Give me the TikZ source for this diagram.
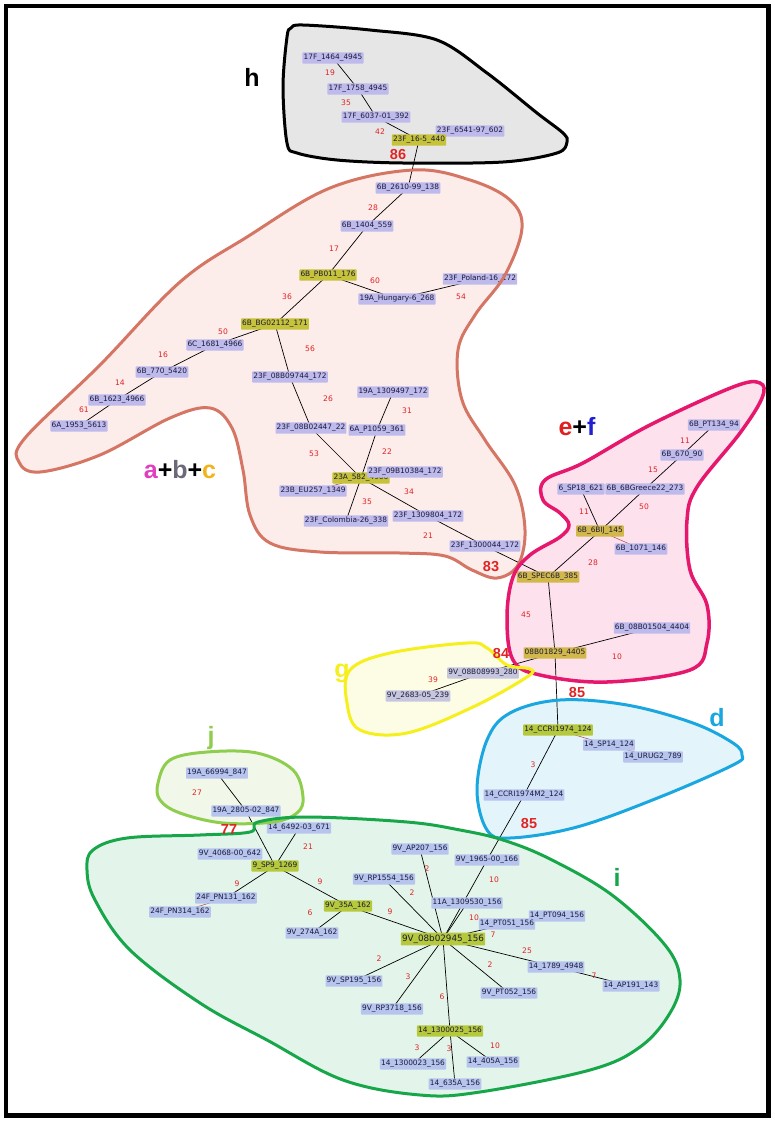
\documentclass[tikz,border=0pt]{standalone}
\usepackage{fontspec}
\setmainfont{DejaVu Sans}
\newfontfamily\labfont{Liberation Sans}
\definecolor{nbA}{HTML}{BEBAEC}
\definecolor{nbB}{HTML}{B6C4EE}
\definecolor{nbG}{HTML}{C6C6DE}
\definecolor{nyO}{HTML}{C6C23A}
\definecolor{nyG}{HTML}{D2B84A}
\definecolor{nyL}{HTML}{B6C93C}
\definecolor{ntext}{HTML}{1A1A3A}
\definecolor{labred}{HTML}{E02424}
\definecolor{thinred}{HTML}{B04040}
\definecolor{hfill}{HTML}{E6E6E6}
\definecolor{pfill}{HTML}{FCECEA}
\definecolor{pdraw}{HTML}{D57563}
\definecolor{efill}{HTML}{FDE2EE}
\definecolor{edraw}{HTML}{E5186E}
\definecolor{gfill}{HTML}{FDFDE6}
\definecolor{gdraw}{HTML}{F5EF1D}
\definecolor{dfill}{HTML}{E3F4FB}
\definecolor{ddraw}{HTML}{1AA7E0}
\definecolor{jfill}{HTML}{F1F8EA}
\definecolor{jdraw}{HTML}{8FCD4F}
\definecolor{ifill}{HTML}{E3F5EA}
\definecolor{idraw}{HTML}{17A74A}
\definecolor{ca}{HTML}{E23FBF}
\definecolor{cb}{HTML}{6A6A7A}
\definecolor{cc}{HTML}{F2B41C}
\definecolor{ce}{HTML}{E02020}
\definecolor{cf}{HTML}{2020D0}
\pgfdeclarelayer{bg}
\pgfdeclarelayer{edges}
\pgfdeclarelayer{fg}
\pgfdeclarelayer{top}
\pgfsetlayers{bg,edges,main,fg,top}
\begin{document}
\begin{tikzpicture}[x=1pt,y=-1pt,
  nb/.style={fill=nbA, text=ntext, inner xsep=1.2pt, inner ysep=2pt, rounded corners=0.8pt, font=\fontsize{7.4}{8}\selectfont},
  nl/.style={nb, fill=nbB},
  ng/.style={nb, fill=nbG},
  nyo/.style={nb, fill=nyO},
  nyg/.style={nb, fill=nyG},
  nyl/.style={nb, fill=nyL},
  hub/.style={nb, fill=nyL, font=\fontsize{8.8}{10}\selectfont},
  el/.style={text=labred, inner sep=0pt, font=\fontsize{7.6}{8}\selectfont},
  eb/.style={text=labred, inner sep=0pt, font=\labfont\bfseries\fontsize{14.5}{16}\selectfont},
  rl/.style={inner sep=0pt, font=\labfont\bfseries\fontsize{25}{28}\selectfont},
  ed/.style={black, line width=0.7pt},
  edr/.style={thinred, line width=0.5pt},
  region/.style={line width=3pt},
  hshape/.style={insert path={plot[smooth cycle, tension=0.55] coordinates {(287,37) (291,28) (303,25) (370,30) (437,40) (487,73) (537,113) (563,133) (567,142) (557,153) (503,162) (403,163) (337,160) (297,153) (287,143) (283,87)}}},
  pshape/.style={insert path={plot[smooth cycle, tension=0.6] coordinates {(413,170) (470,180) (510,200) (522,228) (505,275) (475,315) (458,350) (462,400) (485,440) (515,485) (525,530) (518,565) (497,578) (472,570) (445,556) (400,553) (320,552) (270,543) (250,515) (243,470) (232,428) (210,408) (170,418) (100,455) (40,472) (19,462) (25,438) (100,365) (180,282) (247,237) (330,188)}}},
  eshape/.style={insert path={plot[smooth cycle, tension=0.6] coordinates {(760,383) (762,398) (740,433) (697,487) (687,520) (690,570) (707,605) (707,643) (690,670) (607,682) (540,675) (513,660) (507,617) (513,577) (530,555) (560,537) (569,525) (560,513) (543,500) (545,480) (583,463) (650,425) (733,387)}}},
  gshape/.style={insert path={plot[smooth cycle, tension=0.6] coordinates {(350,670) (390,653) (467,643) (487,648) (507,665) (530,669) (527,677) (473,707) (407,733) (360,730) (347,703)}}},
  dshape/.style={insert path={plot[smooth cycle, tension=0.6] coordinates {(560,700) (627,705) (693,723) (733,743) (742,755) (733,765) (660,797) (577,827) (510,838) (487,830) (477,790) (487,740) (510,713)}}},
  jshape/.style={insert path={plot[smooth cycle, tension=0.6] coordinates {(158,783) (170,760) (207,752) (257,753) (293,770) (303,797) (297,813) (273,822) (223,823) (180,813) (160,800)}}},
  ishape/.style={insert path={plot[smooth cycle, tension=0.6] coordinates {(93,850) (127,838) (200,835) (250,832) (258,822) (307,817) (407,822) (460,830) (503,840) (550,859) (612,895) (665,945) (680,980) (670,1013) (640,1047) (590,1070) (480,1092) (420,1095) (343,1080) (267,1040) (200,1003) (130,950) (95,900) (87,870)}}}
]
\useasboundingbox (0,0) rectangle (774,1122);
\begin{pgfonlayer}{bg}
  \fill[white] (0,0) rectangle (774,1122);
  \fill[hfill] [hshape];
  \fill[pfill] [pshape];
  \fill[efill] [eshape];
  \fill[gfill] [gshape];
  \fill[dfill] [dshape];
  \fill[jfill] [jshape];
  \fill[ifill] [ishape];
\end{pgfonlayer}
\begin{pgfonlayer}{fg}
  \draw[region, black] [hshape];
  \draw[region, pdraw] [pshape];
  \draw[region, edraw, line width=3.5pt] [eshape];
  \draw[region, gdraw] [gshape];
  \draw[region, ddraw] [dshape];
  \draw[region, jdraw] [jshape];
  \draw[region, idraw] [ishape];
  \draw[line width=4.5pt] (6,6) rectangle (768.5,1115.5);
\end{pgfonlayer}

% region labels
\node[rl] (lh) at (252,77) {h};
\node[rl] (labc) at (180,470) {{\color{ca}a}+{\color{cb}b}+{\color{cc}c}};
\node[rl] (lef) at (577,427) {{\color{ce}e}+{\color{cf}f}};
\node[rl, text=gdraw] (lg) at (342,673) {g};
\node[rl, text=ddraw] (ld) at (717,718) {d};
\node[rl, text=jdraw] (lj) at (211,738) {j};
\node[rl, text=idraw] (li) at (617,877) {i};

% h region
\node[nb] (h1) at (333,58) {17F\_1464\_4945};
\node[nb] (h2) at (358,89) {17F\_1758\_4945};
\node[nb] (h3) at (376,117) {17F\_6037-01\_392};
\node[nb] (h4) at (470,131) {23F\_6541-97\_602};
\node[nyo] (h5) at (419,140) {23F\_16-5\_440};
\node[el] (w1) at (330,73) {19};
\node[el] (w2) at (346,103) {35};
\node[el] (w3) at (380,132) {42};

% a+b+c region
\node[nb] (p1) at (408,188) {6B\_2610-99\_138};
\node[nb] (p2) at (367,226) {6B\_1404\_559};
\node[nyo] (p3) at (328,275) {6B\_PB011\_176};
\node[nb] (p4) at (397,299) {19A\_Hungary-6\_268};
\node[nb] (p5) at (480,279) {23F\_Poland-16\_172};
\node[nyo] (p6) at (275,324) {6B\_BG02112\_171};
\node[nb] (p7) at (215,345) {6C\_1681\_4966};
\node[nb] (p8) at (162,372) {6B\_770\_5420};
\node[nb] (p9) at (117,400) {6B\_1623\_4966};
\node[nb] (p10) at (79,426) {6A\_1953\_5613};
\node[nb] (p11) at (290,377) {23F\_08B09744\_172};
\node[nb] (p12) at (311,428) {23F\_08B02447\_22};
\node[nb] (p13) at (393,392) {19A\_1309497\_172};
\node[nb] (p14) at (377,430) {6A\_P1059\_361};
\node[nyo] (p15) at (361,478) {23A\_582\_4966};
\node[nb] (p16) at (405,472) {23F\_09B10384\_172};
\node[nb] (p17) at (313,491) {23B\_EU257\_1349};
\node[nb] (p18) at (346,521) {23F\_Colombia-26\_338};
\node[nb] (p19) at (428,516) {23F\_1309804\_172};
\node[nb] (p20) at (485,546) {23F\_1300044\_172};
\node[el] (w5) at (373,208) {28};
\node[el] (w6) at (334,249) {17};
\node[el] (w7) at (375,281) {60};
\node[el] (w8) at (461,297) {54};
\node[el] (w9) at (287,297) {36};
\node[el] (w10) at (223,332) {50};
\node[el] (w11) at (163,355) {16};
\node[el] (w12) at (120,383) {14};
\node[el] (w13) at (84,410) {61};
\node[el] (w14) at (310,349) {56};
\node[el] (w15) at (328,399) {26};
\node[el] (w16) at (407,411) {31};
\node[el] (w17) at (314,454) {53};
\node[el] (w18) at (387,452) {22};
\node[el] (w19) at (409,492) {34};
\node[el] (w20) at (367,502) {35};
\node[el] (w21) at (428,536) {21};

% e+f region
\node[nb] (e1) at (714,425) {6B\_PT134\_94};
\node[nb] (e2) at (682,455) {6B\_670\_90};
\node[nb] (e3) at (581,489) {6\_SP18\_621};
\node[nb] (e4) at (645,489) {6B\_6BGreece22\_273};
\node[nyg] (e5) at (600,531) {6B\_6BIJ\_145};
\node[nb] (e6) at (641,549) {6B\_1071\_146};
\node[nyg] (e7) at (548,577) {6B\_SPEC6B\_385};
\node[nb] (e8) at (652,628) {6B\_08B01504\_4404};
\node[nyg] (e9) at (555,653) {08B01829\_4405};
\node[el] (w23) at (685,441) {11};
\node[el] (w24) at (653,470) {15};
\node[el] (w25) at (584,512) {11};
\node[el] (w26) at (644,507) {50};
\node[el] (w27) at (593,563) {28};
\node[el] (w28) at (526,615) {45};
\node[el] (w29) at (617,657) {10};

% g region
\node[ng] (g1) at (483,673) {9V\_08B08993\_280};
\node[ng] (g2) at (418,696) {9V\_2683-05\_239};
\node[el] (w31) at (433,680) {39};

% d region
\node[nyl] (d1) at (558,730) {14\_CCRI1974\_124};
\node[nl] (d2) at (609,745) {14\_SP14\_124};
\node[nl] (d3) at (653,757) {14\_URUG2\_789};
\node[nl] (d4) at (524,795) {14\_CCRI1974M2\_124};
\node[el] (w32) at (533,765) {3};

% j region
\node[nl] (j1) at (217,773) {19A\_66994\_847};
\node[nl] (j2) at (246,811) {19A\_2805-02\_847};
\node[el] (w35) at (197,793) {27};

% i region
\node[nl] (i1) at (299,828) {14\_6492-03\_671};
\node[nl] (i2) at (230,854) {9V\_4068-00\_642};
\node[nyl] (i3) at (275,866) {9\_SP9\_1269};
\node[nl] (i4) at (226,898) {24F\_PN131\_162};
\node[nl] (i5) at (180,912) {24F\_PN314\_162};
\node[nyl] (i6) at (348,906) {9V\_35A\_162};
\node[nl] (i7) at (312,933) {9V\_274A\_162};
\node[nl] (i8) at (420,849) {9V\_AP207\_156};
\node[nl] (i9) at (384,879) {9V\_RP1554\_156};
\node[nl] (i10) at (487,860) {9V\_1965-00\_166};
\node[nl] (i11) at (467,903) {11A\_1309530\_156};
\node[nl] (i12) at (557,916) {14\_PT094\_156};
\node[nl] (i13) at (507,924) {14\_PT051\_156};
\node[hub] (i14) at (443,939) {9V\_08b02945\_156};
\node[nl] (i15) at (556,967) {14\_1789\_4948};
\node[nl] (i16) at (631,986) {14\_AP191\_143};
\node[nl] (i17) at (509,993) {9V\_PT052\_156};
\node[nl] (i18) at (354,981) {9V\_SP195\_156};
\node[nl] (i19) at (392,1009) {9V\_RP3718\_156};
\node[nyl] (i20) at (450,1031) {14\_1300025\_156};
\node[nl] (i21) at (413,1064) {14\_1300023\_156};
\node[nl] (i22) at (493,1062) {14\_405A\_156};
\node[nl] (i23) at (455,1084) {14\_635A\_156};
\node[el] (w37) at (308,847) {21};
\node[el] (w38) at (237,884) {9};
\node[el] (w39) at (320,882) {9};
\node[el] (w40) at (427,869) {2};
\node[el] (w41) at (412,893) {2};
\node[el] (w42) at (494,880) {10};
\node[el] (w43) at (390,912) {9};
\node[el] (w44) at (474,918) {10};
\node[el] (w45) at (493,935) {7};
\node[el] (w46) at (310,913) {6};
\node[el] (w47) at (527,951) {25};
\node[el] (w48) at (379,959) {2};
\node[el] (w49) at (490,965) {2};
\node[el] (w50) at (408,977) {3};
\node[el] (w51) at (442,997) {6};
\node[el] (w52) at (417,1048) {3};
\node[el] (w53) at (449,1049) {3};
\node[el] (w54) at (495,1046) {10};

% big cluster-link labels, above the region outlines
\begin{pgfonlayer}{top}
  \node[eb] (w4) at (398,155) {86};
  \node[eb] (w22) at (491,567) {83};
  \node[eb] (w30) at (501,653) {84};
  \node[eb] (w33) at (577,692) {85};
  \node[eb] (w34) at (529,823) {85};
  \node[eb] (w36) at (229,830) {77};
\end{pgfonlayer}

% edges
\begin{pgfonlayer}{edges}
  \draw[ed] (h1.center) -- (h2.center) -- (h3.center) -- (h5.center) -- (p1.center);
  \draw[ed] (p1.center) -- (p2.center) -- (p3.center) -- (p6.center) -- (p7.center) -- (p8.center) -- (p9.center) -- (p10.center);
  \draw[ed] (p3.center) -- (p4.center) -- (p5.center);
  \draw[ed] (p6.center) -- (p11.center) -- (p12.center) -- (p15.center);
  \draw[ed] (p13.center) -- (p14.center) -- (p15.center);
  \draw[ed] (p15.center) -- (p18.center);
  \draw[edr] (p15.center) -- (p17.center);
  \draw[ed] (p15.center) -- (p19.center) -- (p20.center) -- (e7.center);
  \draw[ed] (e1.center) -- (e2.center) -- (e4.center) -- (e5.center);
  \draw[ed] (e3.center) -- (e5.center) -- (e7.center) -- (e9.center) -- (e8.center);
  \draw[edr] (e5.center) -- (e6.center);
  \draw[ed] (e9.center) -- (g1.center) -- (g2.center);
  \draw[ed] (e9.center) -- (d1.center) -- (d4.center) -- (i10.center) -- (i14.center);
  \draw[edr] (d1.center) -- (d2.center) -- (d3.center);
  \draw[ed] (j1.center) -- (j2.center) -- (i3.center);
  \draw[ed] (i1.center) -- (i3.center) -- (i4.center);
  \draw[edr] (i4.center) -- (i5.center);
  \draw[ed] (i3.center) -- (i6.center) -- (i14.center);
  \draw[ed] (i6.center) -- (i7.center);
  \draw[ed] (i8.center) -- (i14.center);
  \draw[ed] (i9.center) -- (i14.center);
  \draw[ed] (i11.center) -- (i14.center);
  \draw[ed] (i13.center) -- (i14.center);
  \draw[ed] (i14.center) -- (i15.center) -- (i16.center);
  \draw[ed] (i14.center) -- (i17.center);
  \draw[ed] (i14.center) -- (i18.center);
  \draw[ed] (i14.center) -- (i19.center);
  \draw[ed] (i14.center) -- (i20.center) -- (i21.center);
  \draw[ed] (i20.center) -- (i22.center);
  \draw[ed] (i20.center) -- (i23.center);
\end{pgfonlayer}
\node[el] (w55) at (594,976) {7};
\end{tikzpicture}
\end{document}
